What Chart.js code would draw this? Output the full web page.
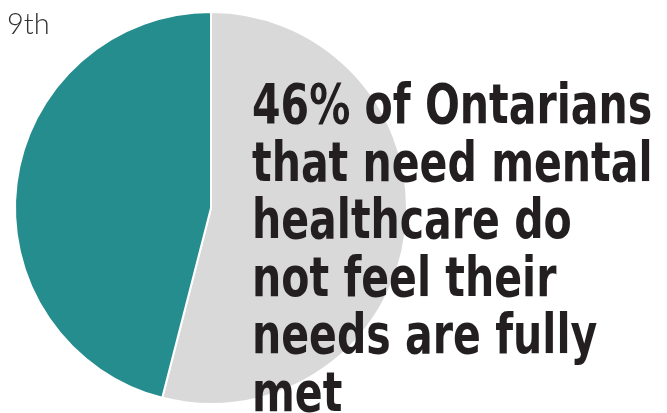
<!DOCTYPE html>
<html>
<head>
<meta charset="utf-8">
<script src="https://cdn.jsdelivr.net/npm/chart.js@4.4.1/dist/chart.umd.min.js"></script>
<style>
    html, body { margin: 0; padding: 0; background: #fff; }
    #wrap { position: relative; width: 667px; height: 413px; overflow: hidden; }
    #rank {
        position: absolute; left: 7px; top: 5px;
        font-family: Lato, "Open Sans", sans-serif; font-weight: 300;
        font-size: 29px; color: #333;
    }
    #headline {
        position: absolute; left: 252px; top: 76px;
        font-family: "DejaVu Sans Condensed", sans-serif;
        font-weight: bold; font-size: 55px; line-height: 57.5px;
        color: #231f20; white-space: nowrap;
        transform: scaleX(0.83); transform-origin: left top;
    }
</style>
</head>
<body>
<div id="wrap">
    <canvas id="pieChart" width="667" height="413"></canvas>
    <div id="rank">9th</div>
    <div id="headline">46% of Ontarians<br>that need mental<br>healthcare do<br>not feel their<br>needs are fully<br>met</div>
</div>

<script>
// slices go clockwise from the top
var labels = ['Needs fully met', 'Needs not fully met'];
var shares = [54, 46];
var sliceColors = ['#d9d9d9', '#268d8e'];

var ctx = document.getElementById('pieChart').getContext('2d');
var myPie = new Chart(ctx, {
    type: 'pie',
    data: {
        labels: labels,
        datasets: [{
            data: shares,
            backgroundColor: sliceColors,
            borderColor: '#ffffff',
            borderWidth: 2,
            hoverOffset: 0
        }]
    },
    options: {
        responsive: false,
        animation: false,
        layout: {
            padding: { left: 14, top: 11, right: 259, bottom: 8 }
        },
        plugins: {
            legend: { display: false },
            tooltip: { enabled: false }
        }
    }
});
</script>
</body>
</html>
